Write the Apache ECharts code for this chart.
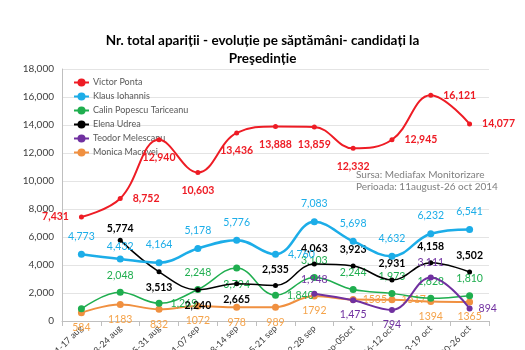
<!DOCTYPE html>
<html>
<head>
<meta charset="utf-8">
<script src="https://cdn.jsdelivr.net/npm/echarts@6/dist/echarts.min.js"></script>
<style>
  html, body { margin: 0; padding: 0; background: #fff; }
  #chart { width: 525px; height: 350px; }
</style>
</head>
<body>
<div id="chart"></div>
<script>
const weeks = ['11-17 aug', '18-24 aug', '25-31 aug', '01-07 sep', '08-14 sep', '15-21 sep',
  '22-28 sep', '29 sep-05oct', '06-12 oct', '13-19 oct', '20-26 oct'];
const ponta = [7431, 8752, 12940, 10603, 13436, 13888, 13859, 12332, 12945, 16121, 14077];
const iohannis = [4773, 4432, 4164, 5178, 5776, 4760, 7083, 5698, 4632, 6232, 6541];
const tariceanu = [870, 2048, 1269, 2248, 3794, 1840, 3103, 2244, 1973, 1628, 1810];
const udrea = [null, 5774, 3513, 2240, 2665, 2535, 4063, 3923, 2931, 4158, 3502];
const melescanu = [null, null, null, null, null, null, 1948, 1475, 794, 3111, 894];
const macovei = [584, 1183, 832, 1072, 978, 989, 1792, 1535, 1517, 1394, 1365];
const yTicks = { min: 0, max: 18000, step: 2000 };

// label placement per point (style only)
const pontaPos = ['left', 'right', 'bottom', 'bottom', 'bottom', 'bottom', 'bottom', 'bottom', 'right', 'right', 'right'];
const iohannisPos = ['top', 'top', 'top', 'top', 'top', 'right', 'top', 'top', 'top', 'top', 'top'];
const tariceanuPos = ['top', 'top', 'right', 'top', 'bottom', 'right', 'top', 'top', 'top', 'top', 'top'];
const udreaPos = ['top', 'top', 'bottom', 'bottom', 'bottom', 'top', 'top', 'top', 'top', 'top', 'top'];
const melescanuPos = ['top', 'top', 'top', 'top', 'top', 'top', 'top', 'bottom', 'bottom', 'top', 'right'];
const macoveiPos = ['bottom', 'bottom', 'bottom', 'bottom', 'bottom', 'bottom', 'bottom', 'right', 'right', 'bottom', 'bottom'];
// a few labels sit closer to their point
const labelDistance = { 'Elena Udrea': { 1: 4 }, 'Klaus Iohannis': { 1: 3 } };

const FONT = 'Lato';
const comma = v => v.toLocaleString('en-US');

function mk(name, values, pos, color, opts) {
  const tweak = labelDistance[name] || {};
  return {
    name: name,
    type: 'line',
    smooth: 0.4,
    symbol: 'circle',
    symbolSize: opts.symbolSize,
    connectNulls: false,
    lineStyle: { width: opts.lineWidth, color: color },
    itemStyle: { color: color },
    label: {
      show: true,
      color: opts.labelColor || color,
      fontSize: 10.5,
      fontWeight: opts.bold ? 'bold' : 'normal',
      fontFamily: FONT,
      distance: opts.distance || 6,
      formatter: p => opts.plain ? String(p.value) : comma(p.value)
    },
    data: values.map((v, i) => {
      const lab = { position: pos[i], show: !(opts.hide && opts.hide.includes(i)) };
      if (tweak[i] !== undefined) lab.distance = tweak[i];
      return { value: v, label: lab };
    }),
    z: opts.z || 2
  };
}

const chart = echarts.init(document.getElementById('chart'));
chart.setOption({
  animation: false,
  title: {
    text: 'Nr. total apariții - evoluție pe săptămâni- candidați la\nPreşedinție',
    left: 'center',
    top: 27,
    textStyle: { fontSize: 13.5, fontWeight: 'bold', fontFamily: FONT, color: '#000', lineHeight: 18 }
  },
  legend: {
    orient: 'vertical',
    left: 68,
    top: 73,
    itemGap: 5,
    itemWidth: 15,
    itemHeight: 10,
    textStyle: { fontSize: 9, color: '#595959', fontFamily: FONT, padding: [0, 0, 0, -1] },
    data: ['Victor Ponta', 'Klaus Iohannis', 'Calin Popescu Tariceanu', 'Elena Udrea', 'Teodor Melescanu', 'Monica Macovei']
  },
  grid: { left: 62, right: 36, top: 69, bottom: 29, containLabel: false, outerBoundsMode: 'none' },
  xAxis: {
    type: 'category',
    data: weeks,
    boundaryGap: true,
    axisLine: { lineStyle: { color: '#bfbfbf' } },
    axisTick: { show: true, lineStyle: { color: '#bfbfbf' } },
    axisLabel: { rotate: 45, fontSize: 9, color: '#404040', fontFamily: FONT, margin: 6, interval: 0 },
    splitLine: { show: false }
  },
  yAxis: {
    type: 'value',
    min: yTicks.min,
    max: yTicks.max,
    interval: yTicks.step,
    axisLine: { show: true, lineStyle: { color: '#bfbfbf' } },
    axisTick: { show: false },
    axisLabel: { fontSize: 10, color: '#404040', fontFamily: FONT, margin: 8 },
    splitLine: { lineStyle: { color: '#e4e4e4' } }
  },
  graphic: [
    { type: 'text', left: 356, top: 170, style: { text: 'Sursa: Mediafax Monitorizare', fill: '#7f7f7f', font: '10px Lato' } },
    { type: 'text', left: 356, top: 182, style: { text: 'Perioada: 11august-26 oct 2014', fill: '#7f7f7f', font: '10px Lato' } }
  ],
  series: [
    mk('Victor Ponta', ponta, pontaPos, '#ee1c25', { symbolSize: 5, lineWidth: 2, bold: true, distance: 10, z: 6 }),
    mk('Klaus Iohannis', iohannis, iohannisPos, '#1cade8', { symbolSize: 7, lineWidth: 2.5, distance: 9, z: 5 }),
    mk('Calin Popescu Tariceanu', tariceanu, tariceanuPos, '#1fae4f', { symbolSize: 7, lineWidth: 1.5, distance: 8, hide: [0], z: 3 }),
    mk('Elena Udrea', udrea, udreaPos, '#000000', { symbolSize: 5, lineWidth: 1.5, bold: true, distance: 8, z: 4 }),
    mk('Teodor Melescanu', melescanu, melescanuPos, '#7030a0', { symbolSize: 6, lineWidth: 2, distance: 6, z: 4 }),
    mk('Monica Macovei', macovei, macoveiPos, '#f09040', { symbolSize: 7, lineWidth: 2, labelColor: '#f5a34a', plain: true, distance: 6, z: 2 })
  ]
});
</script>
</body>
</html>
